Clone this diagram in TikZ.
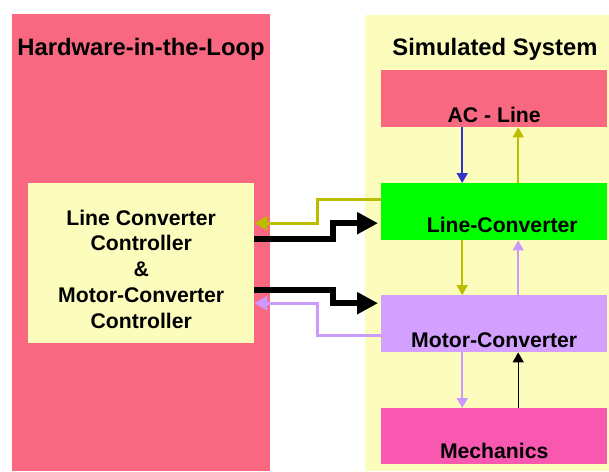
\documentclass[tikz,border=0pt]{standalone}
\usepackage{fontspec}
\setmainfont{Liberation Sans}
\usetikzlibrary{arrows.meta}

\definecolor{panelpink}{RGB}{248,104,128}
\definecolor{panelyellow}{RGB}{252,252,188}
\definecolor{convgreen}{RGB}{0,255,0}
\definecolor{motorlav}{RGB}{212,160,255}
\definecolor{mechpink}{RGB}{248,88,176}
\definecolor{sigolive}{RGB}{188,188,0}
\definecolor{sigblue}{RGB}{51,51,204}
\definecolor{siglav}{RGB}{204,153,255}

\tikzset{
  block/.style={draw=none, rectangle, inner sep=0pt, anchor=north west},
  title/.style={font=\fontsize{23.8}{28}\selectfont\bfseries, anchor=base, inner sep=0pt},
  lbl/.style={font=\fontsize{21.2}{25.8}\selectfont\bfseries, anchor=base, inner sep=0pt},
  thinarr/.style={line width=1.8pt, -{Triangle[length=10pt,width=11pt]}},
  feedarr/.style={line width=3pt, -{Triangle[length=13pt,width=14pt]}},
  cmdarr/.style={line width=6pt, -{Triangle[length=21pt,width=21pt]}, shorten >=3pt},
}

\begin{document}
\begin{tikzpicture}[x=1pt,y=-1pt]
  \useasboundingbox (0,0) rectangle (609,471);
  \fill[white] (0,0) rectangle (609,471);

  % the two halves of the set-up
  \node[block, fill=panelpink, minimum width=258pt, minimum height=457pt] (hil) at (12,14) {};
  \node[block, fill=panelyellow, minimum width=244pt, minimum height=456pt] (sim) at (365,15) {};
  \node[title] (hiltitle) at (141,55) {Hardware-in-the-Loop};
  \node[title] (simtitle) at (495,55) {Simulated System};

  % controller
  \node[block, fill=panelyellow, minimum width=226pt, minimum height=160pt] (ctrl) at (28,183) {};
  \node[lbl, anchor=center, align=center] (ctrltext) at ([yshift=-6pt]ctrl.center)
    {Line Converter\\Controller\\\&\\Motor-Converter\\Controller};

  % simulated plant
  \node[block, fill=panelpink, minimum width=226pt, minimum height=57pt] (ac) at (381,70) {};
  \node[block, fill=convgreen, minimum width=226pt, minimum height=57pt] (lc) at (381,183) {};
  \node[block, fill=motorlav, minimum width=226pt, minimum height=57pt] (mc) at (381,295) {};
  \node[block, fill=mechpink, minimum width=226pt, minimum height=56pt] (me) at (381,408) {};

  \node[lbl] (actext) at ([yshift=5pt]ac.south) {AC - Line};
  \node[lbl] (lctext) at ([xshift=8pt,yshift=8pt]lc.south) {Line-Converter};
  \node[lbl] (mctext) at ([yshift=5pt]mc.south) {Motor-Converter};
  \node[lbl] (metext) at ([yshift=6pt]me.south) {Mechanics};

  % energy flow between the plant parts
  \draw[thinarr, sigblue]  ([xshift=-32pt]ac.south) -- ([xshift=-32pt]lc.north);
  \draw[thinarr, sigolive] ([xshift=24pt]lc.north) -- ([xshift=24pt]ac.south);
  \draw[thinarr, sigolive] ([xshift=-32pt]lc.south) -- ([xshift=-32pt]mc.north);
  \draw[thinarr, siglav]   ([xshift=24pt]mc.north) -- ([xshift=24pt]lc.south);
  \draw[thinarr, siglav]   ([xshift=-32pt]mc.south) -- ([xshift=-32pt]me.north);
  \draw[thinarr, black, line width=1.4pt] ([xshift=24pt]me.north) -- ([xshift=24pt]mc.south);

  % measurements back to the controller
  \draw[feedarr, sigolive] ([yshift=12.5pt]lc.west) -- ++(-64,0) |- ([yshift=40pt]ctrl.east);
  \draw[feedarr, siglav]   ([yshift=-11.5pt]mc.west) -- ++(-64,0) |- ([yshift=-40pt]ctrl.east);

  % switching commands to the converters
  \draw[cmdarr, black] ([yshift=24pt]ctrl.east) -- ++(79,0) |- ([yshift=-11.5pt]lc.west);
  \draw[cmdarr, black] ([yshift=-27pt]ctrl.east) -- ++(79,0) |- ([yshift=20.5pt]mc.west);
\end{tikzpicture}
\end{document}
